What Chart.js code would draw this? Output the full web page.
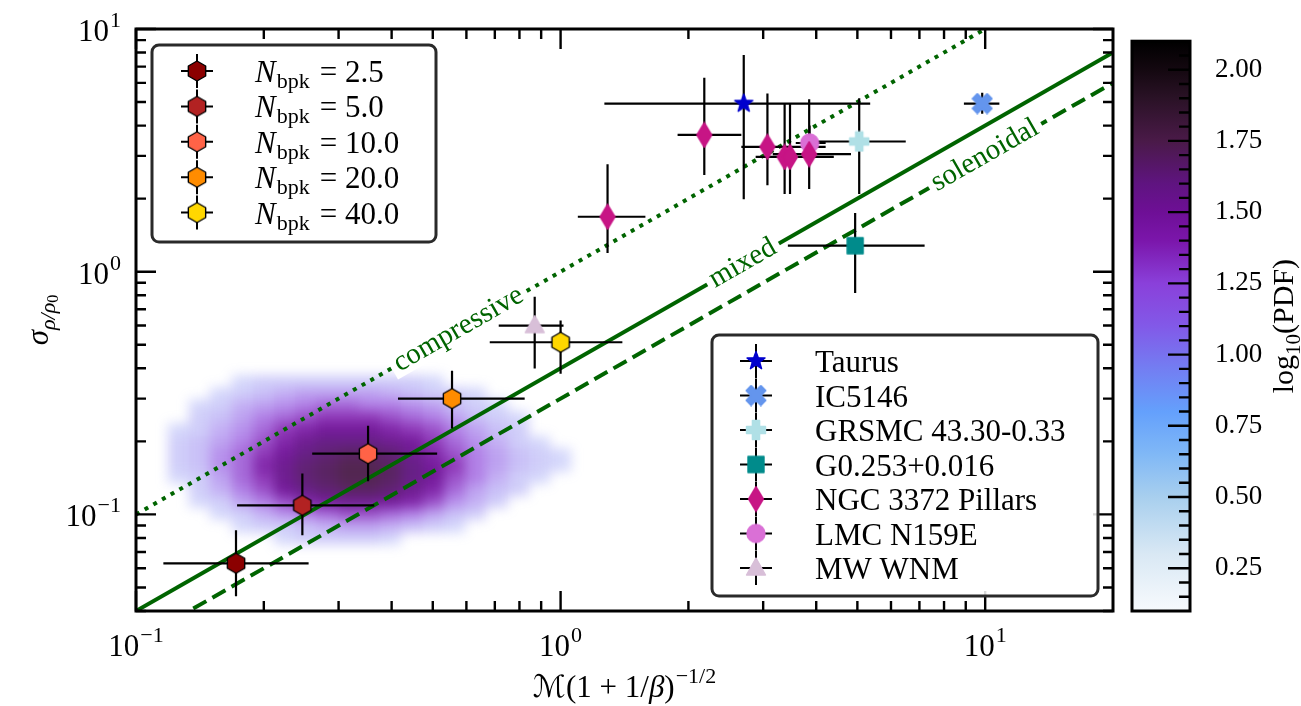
<!DOCTYPE html>
<html>
<head>
<meta charset="utf-8">
<script src="https://cdn.jsdelivr.net/npm/chart.js@4.4.0/dist/chart.umd.min.js"></script>
<style>
html, body { margin: 0; padding: 0; background: #fff; }
#wrap { position: relative; width: 1301px; height: 706px; }
canvas { position: absolute; left: 0; top: 0; }
</style>
</head>
<body>
<div id="wrap">
<canvas id="main" width="1301" height="706"></canvas>
<canvas id="cbar" width="1301" height="706"></canvas>
</div>
<script>
var FONT = '"Liberation Serif", "DejaVu Serif", "DejaVu Sans", serif';

// axes
var xRange = [0.1, 20];
var yRange = [0.04, 10];
var xMajorTicks = [0.1, 1, 10];
var xMinorTicks = [0.2, 0.3, 0.4, 0.5, 0.6, 0.7, 0.8, 0.9, 2, 3, 4, 5, 6, 7, 8, 9];
var xTickLabels = ['\u22121', '0', '1'];
var yMajorTicks = [0.1, 1, 10];
var yMinorTicks = [0.04, 0.05, 0.06, 0.07, 0.08, 0.09, 0.2, 0.3, 0.4, 0.5, 0.6, 0.7, 0.8, 0.9, 2, 3, 4, 5, 6, 7, 8, 9];
var yTickLabels = ['\u22121', '0', '1'];

// simulations, one point per N_bpk
var bpkNames = ['2.5', '5.0', '10.0', '20.0', '40.0'];
var bpkColors = ['#8b0000', '#b22222', '#ff6347', '#ff8c00', '#ffd700'];
var bpkX = [0.172, 0.2465, 0.352, 0.555, 1.0];
var bpkY = [0.0629, 0.109, 0.178, 0.300, 0.512];
var bpkXlo = [0.116, 0.173, 0.26, 0.414, 0.681];
var bpkXhi = [0.255, 0.364, 0.512, 0.823, 1.398];
var bpkYlo = [0.046, 0.082, 0.137, 0.226, 0.380];
var bpkYhi = [0.086, 0.1475, 0.232, 0.391, 0.629];

// observations
var obsNames = ['Taurus', 'IC5146', 'GRSMC 43.30-0.33', 'G0.253+0.016', 'NGC 3372 Pillars', 'LMC N159E', 'MW WNM'];
var obsColors = ['#0000cd', '#6495ed', '#b0e0e6', '#008b8b', '#c71585', '#da70d6', '#d8bfd8'];
var obsShapes = ['star', 'xfill', 'plusfill', 'square', 'diamond', 'circle', 'triangle'];
var obsX = [[2.70], [9.84], [5.05], [4.94], [1.29, 2.18, 3.07, 3.37, 3.47, 3.85], [3.86], [0.869]];
var obsY = [[4.93], [4.93], [3.44], [1.28], [1.684, 3.66, 3.27, 2.97, 2.97, 3.05], [3.39], [0.60]];
var obsXlo = [[1.268], [8.91], [3.89], [3.43], [1.098, 1.886, 2.665, 2.88, 3.0, 3.16], [3.58], [0.715]];
var obsXhi = [[5.36], [10.8], [6.50], [7.20], [1.584, 2.665, 4.21, 4.26, 4.4, 4.83], [4.21], [1.016]];
var obsYlo = [[1.99], [4.48], [2.09], [0.817], [1.194, 2.50, 2.27, 2.09, 2.09, 2.19], [2.9], [0.399]];
var obsYhi = [[7.82], [5.46], [5.18], [1.744], [2.77, 6.30, 5.42, 4.87, 4.87, 5.14], [4.0], [0.789]];

// sigma = b * M relations
var relNames = ['compressive', 'mixed', 'solenoidal'];
var relSlopes = [1, 0.4, 0.3];
var relLabelX = [0.576, 2.69, 10.0];

// colour bar
var cbRange = [0.1, 2.1];
var cbMajorTicks = [0.25, 0.5, 0.75, 1.0, 1.25, 1.5, 1.75, 2.0];
var cbMinorTicks = [0.15, 0.2, 0.3, 0.35, 0.4, 0.45, 0.55, 0.6, 0.65, 0.7, 0.8, 0.85, 0.9, 0.95, 1.05, 1.1, 1.15, 1.2,
  1.3, 1.35, 1.4, 1.45, 1.55, 1.6, 1.65, 1.7, 1.8, 1.85, 1.9, 1.95, 2.05];
var cbStopValues = [0.1, 0.3, 0.5, 0.65, 0.8, 0.95, 1.1, 1.25, 1.4, 1.5, 1.6, 1.75, 1.9, 2.0, 2.1];
var cbStopColors = ['#f7fafd', '#d9e8f4', '#a8cfee', '#80b8f6', '#64a0fc', '#737ef2', '#8259e8', '#8a40da',
  '#7b16ab', '#6e0f96', '#5f1480', '#4a1a48', '#2a1226', '#140810', '#000000'];

// simulation cloud, log10(PDF) per cell on a 0.05 dex grid
var cloudStep = 0.05;
var cloudLogX = [-0.9, -0.85, -0.8, -0.75, -0.7, -0.65, -0.6, -0.55, -0.5, -0.45, -0.4, -0.35, -0.3, -0.25, -0.2, -0.15, -0.1, -0.05, 0];
var cloudLogY = [-0.45, -0.5, -0.55, -0.6, -0.65, -0.7, -0.75, -0.8, -0.85, -0.9, -0.95, -1.0, -1.05, -1.1];
var cloudGrid = [
  [0, 0, 0, 0.95, 1.0, 1.0, 1.0, 1.0, 1.0, 1.0, 1.0, 1.0, 0.95, 0, 0, 0, 0, 0, 0],
  [0, 0, 0.95, 1.0, 1.05, 1.1, 1.15, 1.15, 1.15, 1.15, 1.1, 1.05, 1.0, 1.0, 0.95, 0, 0, 0, 0],
  [0, 0.95, 1.0, 1.1, 1.15, 1.2, 1.25, 1.3, 1.3, 1.25, 1.25, 1.2, 1.15, 1.05, 1.0, 0.95, 0, 0, 0],
  [0, 1.0, 1.05, 1.15, 1.25, 1.3, 1.35, 1.4, 1.4, 1.4, 1.35, 1.3, 1.25, 1.15, 1.05, 1.0, 0.95, 0, 0],
  [0.95, 1.0, 1.1, 1.2, 1.3, 1.4, 1.45, 1.5, 1.5, 1.5, 1.45, 1.4, 1.35, 1.25, 1.15, 1.05, 1.0, 0, 0],
  [1.0, 1.05, 1.15, 1.25, 1.35, 1.45, 1.55, 1.6, 1.6, 1.6, 1.55, 1.5, 1.4, 1.3, 1.2, 1.1, 1.0, 0.95, 0],
  [1.0, 1.05, 1.2, 1.3, 1.4, 1.5, 1.6, 1.65, 1.7, 1.7, 1.65, 1.55, 1.45, 1.35, 1.25, 1.15, 1.05, 1.0, 0.95],
  [1.0, 1.05, 1.2, 1.3, 1.45, 1.55, 1.65, 1.7, 1.75, 1.75, 1.7, 1.6, 1.5, 1.4, 1.25, 1.15, 1.05, 1.0, 0.95],
  [0.95, 1.0, 1.15, 1.3, 1.4, 1.55, 1.65, 1.7, 1.75, 1.75, 1.7, 1.6, 1.5, 1.35, 1.25, 1.1, 1.0, 0.95, 0],
  [0, 1.0, 1.1, 1.25, 1.35, 1.5, 1.6, 1.65, 1.7, 1.7, 1.65, 1.55, 1.45, 1.3, 1.15, 1.05, 1.0, 0, 0],
  [0, 0.95, 1.0, 1.15, 1.25, 1.35, 1.45, 1.5, 1.55, 1.55, 1.5, 1.45, 1.35, 1.2, 1.1, 1.0, 0, 0, 0],
  [0, 0, 0.95, 1.0, 1.1, 1.2, 1.25, 1.3, 1.35, 1.35, 1.3, 1.25, 1.15, 1.05, 1.0, 0, 0, 0, 0],
  [0, 0, 0, 0.95, 1.0, 1.0, 1.05, 1.1, 1.15, 1.15, 1.1, 1.05, 1.0, 0.95, 0, 0, 0, 0, 0],
  [0, 0, 0, 0, 0, 0.95, 1.0, 1.0, 1.0, 1.0, 0.95, 0, 0, 0, 0, 0, 0, 0, 0]
];

function hexRgb(h) {
  return [parseInt(h.substr(1, 2), 16), parseInt(h.substr(3, 2), 16), parseInt(h.substr(5, 2), 16)];
}
function cmap(v) {
  if (v <= cbStopValues[0]) return cbStopColors[0];
  for (var i = 1; i < cbStopValues.length; i++) {
    if (v <= cbStopValues[i]) {
      var t = (v - cbStopValues[i - 1]) / (cbStopValues[i] - cbStopValues[i - 1]);
      var a = hexRgb(cbStopColors[i - 1]), b = hexRgb(cbStopColors[i]);
      return 'rgb(' + a.map(function (c, k) { return Math.round(c + (b[k] - c) * t); }).join(',') + ')';
    }
  }
  return cbStopColors[cbStopColors.length - 1];
}

// marker images (matplotlib shapes Chart.js lacks)
function marker(shape, fill, edge) {
  var w = 22, h = 22;
  if (shape === 'diamond') { w = 18; h = 27; }
  var c = document.createElement('canvas');
  c.width = w; c.height = h;
  var g = c.getContext('2d');
  var cx = w / 2, cy = h / 2, k, a, pts = [];
  if (shape === 'hexagon') {
    for (k = 0; k < 6; k++) { a = (-90 + 60 * k) * Math.PI / 180; pts.push([cx + 10 * Math.cos(a), cy + 10 * Math.sin(a)]); }
  } else if (shape === 'star') {
    for (k = 0; k < 10; k++) { a = (-90 + 36 * k) * Math.PI / 180; var r = k % 2 ? 3.9 : 9.5; pts.push([cx + r * Math.cos(a), cy + r * Math.sin(a)]); }
  } else if (shape === 'plusfill' || shape === 'xfill') {
    var L = shape === 'xfill' ? 10.5 : 9.5, t = 3.6;
    var base = [[t, L], [-t, L], [-t, t], [-L, t], [-L, -t], [-t, -t], [-t, -L], [t, -L], [t, -t], [L, -t], [L, t], [t, t]];
    var rot = shape === 'xfill' ? Math.PI / 4 : 0;
    base.forEach(function (p) {
      pts.push([cx + p[0] * Math.cos(rot) - p[1] * Math.sin(rot), cy + p[0] * Math.sin(rot) + p[1] * Math.cos(rot)]);
    });
  } else if (shape === 'square') {
    pts = [[cx - 8, cy - 8], [cx + 8, cy - 8], [cx + 8, cy + 8], [cx - 8, cy + 8]];
  } else if (shape === 'diamond') {
    pts = [[cx, cy - 12.5], [cx + 7.5, cy], [cx, cy + 12.5], [cx - 7.5, cy]];
  } else if (shape === 'triangle') {
    pts = [[cx, cy - 10], [cx + 9.5, cy + 7], [cx - 9.5, cy + 7]];
  }
  g.beginPath();
  if (shape === 'circle') {
    g.arc(cx, cy, 9, 0, Math.PI * 2);
  } else {
    pts.forEach(function (p, i) { if (i) g.lineTo(p[0], p[1]); else g.moveTo(p[0], p[1]); });
    g.closePath();
  }
  g.fillStyle = fill;
  g.fill();
  g.lineJoin = 'round';
  g.lineWidth = 1.4;
  g.strokeStyle = edge;
  g.stroke();
  return c;
}

var bpkMarkers = bpkColors.map(function (c) { return marker('hexagon', c, '#000'); });
var obsMarkers = obsShapes.map(function (s, i) { return marker(s, obsColors[i], obsColors[i]); });

// error bar segments, broken by null gaps
var errData = [];
function addErr(x, y, xlo, xhi, ylo, yhi) {
  errData.push({x: xlo, y: y}, {x: xhi, y: y}, {x: x, y: null}, {x: x, y: ylo}, {x: x, y: yhi}, {x: x, y: null});
}
bpkX.forEach(function (x, i) { addErr(x, bpkY[i], bpkXlo[i], bpkXhi[i], bpkYlo[i], bpkYhi[i]); });
obsX.forEach(function (xs, j) {
  xs.forEach(function (x, i) { addErr(x, obsY[j][i], obsXlo[j][i], obsXhi[j][i], obsYlo[j][i], obsYhi[j][i]); });
});

var datasets = [];
datasets.push({
  data: bpkX.map(function (x, i) { return {x: x, y: bpkY[i]}; }),
  pointStyle: bpkMarkers, pointRadius: 10, order: 0
});
obsNames.forEach(function (n, j) {
  datasets.push({
    label: n,
    data: obsX[j].map(function (x, i) { return {x: x, y: obsY[j][i]}; }),
    pointStyle: obsMarkers[j], pointRadius: 10, order: 0
  });
});
datasets.push({data: errData, showLine: true, borderColor: '#000', borderWidth: 2.2, pointRadius: 0, spanGaps: false, order: 1});
var relDash = [[4, 6], [], [15, 7]];
relNames.forEach(function (n, i) {
  datasets.push({
    label: n,
    data: xRange.map(function (x) { return {x: x, y: relSlopes[i] * x}; }),
    showLine: true, borderColor: '#006400', borderWidth: 4, borderDash: relDash[i],
    pointRadius: 0, order: 4 - i, relLabels: i === 2
  });
});

function drawRich(ctx, parts, x, y, align) {
  var total = 0;
  parts.forEach(function (p) {
    ctx.font = (p.style || '') + ' ' + p.size + 'px ' + FONT;
    p.w = ctx.measureText(p.t).width;
    total += p.w + (p.gap || 0);
  });
  var x0 = align === 'center' ? x - total / 2 : (align === 'right' ? x - total : x);
  ctx.textAlign = 'left';
  ctx.textBaseline = 'alphabetic';
  parts.forEach(function (p) {
    ctx.font = (p.style || '') + ' ' + p.size + 'px ' + FONT;
    ctx.fillText(p.t, x0, y + (p.dy || 0));
    x0 += p.w + (p.gap || 0);
  });
}
function pow10(exp) {
  return [{t: '10', size: 31, gap: 1}, {t: exp, size: 22, dy: -14}];
}

function drawLegendRow(ctx, img, x, y) {
  ctx.strokeStyle = '#000';
  ctx.lineWidth = 2;
  ctx.beginPath();
  ctx.moveTo(x - 16, y); ctx.lineTo(x + 16, y);
  ctx.moveTo(x, y - 17); ctx.lineTo(x, y + 17);
  ctx.stroke();
  ctx.drawImage(img, x - img.width / 2, y - img.height / 2);
}
function legendBox(ctx, x, y, w, h) {
  ctx.beginPath();
  ctx.roundRect(x, y, w, h, 7);
  ctx.fillStyle = 'rgba(255,255,255,0.85)';
  ctx.fill();
  ctx.lineWidth = 3;
  ctx.strokeStyle = '#2a2a2a';
  ctx.stroke();
}

var mainDecor = {
  id: 'mainDecor',
  beforeDatasetsDraw: function (chart) {
    var ctx = chart.ctx, xs = chart.scales.x, ys = chart.scales.y, a = chart.chartArea;
    var off = document.createElement('canvas');
    off.width = chart.width; off.height = chart.height;
    var g = off.getContext('2d');
    cloudLogY.forEach(function (ly, r) {
      cloudLogX.forEach(function (lx, c) {
        var v = cloudGrid[r][c];
        if (!v) return;
        var x0 = xs.getPixelForValue(Math.pow(10, lx - cloudStep / 2));
        var x1 = xs.getPixelForValue(Math.pow(10, lx + cloudStep / 2));
        var y0 = ys.getPixelForValue(Math.pow(10, ly + cloudStep / 2));
        var y1 = ys.getPixelForValue(Math.pow(10, ly - cloudStep / 2));
        g.globalAlpha = Math.min(0.95, Math.max(0.3, (v - 0.72) / 0.8));
        g.fillStyle = cmap(v);
        g.fillRect(Math.round(x0), Math.round(y0), Math.round(x1) - Math.round(x0), Math.round(y1) - Math.round(y0));
      });
    });
    ctx.save();
    ctx.beginPath();
    ctx.rect(a.left, a.top, a.right - a.left, a.bottom - a.top);
    ctx.clip();
    ctx.filter = 'blur(6px)';
    ctx.drawImage(off, 0, 0);
    ctx.restore();
  },
  afterDatasetDraw: function (chart, args) {
    if (!chart.data.datasets[args.index].relLabels) return;
    var ctx = chart.ctx, xs = chart.scales.x, ys = chart.scales.y;
    relNames.forEach(function (name, i) {
      var x = relLabelX[i], b = relSlopes[i];
      var px = xs.getPixelForValue(x), py = ys.getPixelForValue(b * x);
      var ang = Math.atan2(ys.getPixelForValue(2 * b * x) - py, xs.getPixelForValue(2 * x) - px);
      ctx.save();
      ctx.translate(px, py);
      ctx.rotate(ang);
      ctx.font = '29px ' + FONT;
      var w = ctx.measureText(name).width;
      ctx.fillStyle = '#fff';
      ctx.fillRect(-w / 2 - 5, -15, w + 10, 28);
      ctx.fillStyle = '#006400';
      ctx.textAlign = 'center';
      ctx.textBaseline = 'alphabetic';
      ctx.fillText(name, 0, 7);
      ctx.restore();
    });
  },
  afterDraw: function (chart) {
    var ctx = chart.ctx, xs = chart.scales.x, ys = chart.scales.y, a = chart.chartArea;
    ctx.save();
    ctx.fillStyle = '#000';
    ctx.strokeStyle = '#000';
    // inward ticks on all four sides
    ctx.lineWidth = 2.4;
    ctx.beginPath();
    [[xMajorTicks, 20], [xMinorTicks, 10]].forEach(function (s) {
      s[0].forEach(function (v) {
        var p = xs.getPixelForValue(v);
        ctx.moveTo(p, a.bottom); ctx.lineTo(p, a.bottom - s[1]);
        ctx.moveTo(p, a.top); ctx.lineTo(p, a.top + s[1]);
      });
    });
    [[yMajorTicks, 20], [yMinorTicks, 10]].forEach(function (s) {
      s[0].forEach(function (v) {
        var p = ys.getPixelForValue(v);
        ctx.moveTo(a.left, p); ctx.lineTo(a.left + s[1], p);
        ctx.moveTo(a.right, p); ctx.lineTo(a.right - s[1], p);
      });
    });
    ctx.stroke();
    ctx.lineWidth = 3;
    ctx.strokeRect(a.left, a.top, a.right - a.left, a.bottom - a.top);
    // tick labels
    xMajorTicks.forEach(function (v, i) {
      drawRich(ctx, pow10(xTickLabels[i]), xs.getPixelForValue(v), a.bottom + 45, 'center');
    });
    yMajorTicks.forEach(function (v, i) {
      drawRich(ctx, pow10(yTickLabels[i]), a.left - 15, ys.getPixelForValue(v) + 12, 'right');
    });
    // axis titles
    drawRich(ctx, [{t: '\u2133', size: 31}, {t: '(1 + 1/', size: 31}, {t: '\u03b2', size: 31, style: 'italic'},
      {t: ')', size: 31, gap: 1}, {t: '\u22121/2', size: 22, dy: -14}], (a.left + a.right) / 2, 697, 'center');
    ctx.save();
    ctx.translate(48, (a.top + a.bottom) / 2);
    ctx.rotate(-Math.PI / 2);
    drawRich(ctx, [{t: '\u03c3', size: 31, style: 'italic'}, {t: '\u03c1/\u03c1', size: 22, style: 'italic', dy: 7},
      {t: '0', size: 16, dy: 10}], 0, 0, 'center');
    ctx.restore();
    // legend: N_bpk
    var lx = a.left + 16, ly = a.top + 16;
    legendBox(ctx, lx, ly, 284, 197);
    bpkNames.forEach(function (n, i) {
      var ry = ly + 26 + i * 35.4;
      drawLegendRow(ctx, bpkMarkers[i], lx + 45, ry);
      ctx.fillStyle = '#000';
      drawRich(ctx, [{t: 'N', size: 31, style: 'italic', gap: 1}, {t: 'bpk', size: 22, dy: 6, gap: 10},
        {t: '= ' + n, size: 31}], lx + 103, ry + 11, 'left');
    });
    // legend: observations
    var rx = a.right - 15 - 386, ry0 = a.bottom - 15 - 261;
    legendBox(ctx, rx, ry0, 386, 261);
    obsNames.forEach(function (n, i) {
      var ry = ry0 + 26 + i * 34.5;
      drawLegendRow(ctx, obsMarkers[i], rx + 44, ry);
      ctx.fillStyle = '#000';
      drawRich(ctx, [{t: n, size: 31}], rx + 103, ry + 11, 'left');
    });
    ctx.restore();
  }
};

new Chart(document.getElementById('main'), {
  type: 'scatter',
  data: {datasets: datasets},
  options: {
    responsive: false,
    animation: false,
    events: [],
    layout: {padding: {left: 136, top: 29, right: 188, bottom: 95}},
    plugins: {legend: {display: false}, tooltip: {enabled: false}},
    scales: {
      x: {type: 'logarithmic', min: xRange[0], max: xRange[1], display: false},
      y: {type: 'logarithmic', min: yRange[0], max: yRange[1], display: false}
    }
  },
  plugins: [mainDecor]
});

var cbarDecor = {
  id: 'cbarDecor',
  afterDraw: function (chart) {
    var ctx = chart.ctx, ys = chart.scales.y, a = chart.chartArea;
    ctx.save();
    ctx.strokeStyle = '#000';
    ctx.lineWidth = 2.4;
    ctx.beginPath();
    [[cbMajorTicks, 22], [cbMinorTicks, 11]].forEach(function (s) {
      s[0].forEach(function (v) {
        var p = ys.getPixelForValue(v);
        ctx.moveTo(a.right, p); ctx.lineTo(a.right - s[1], p);
      });
    });
    ctx.stroke();
    ctx.lineWidth = 3;
    ctx.strokeRect(a.left, a.top, a.right - a.left, a.bottom - a.top);
    ctx.fillStyle = '#000';
    ctx.translate(1293, (a.top + a.bottom) / 2);
    ctx.rotate(-Math.PI / 2);
    drawRich(ctx, [{t: 'log', size: 30}, {t: '10', size: 21, dy: 7}, {t: '(PDF)', size: 30}], 0, 0, 'center');
    ctx.restore();
  }
};

new Chart(document.getElementById('cbar'), {
  type: 'bar',
  data: {
    labels: ['PDF'],
    datasets: [{
      data: [[cbRange[0], cbRange[1]]],
      borderWidth: 0,
      barPercentage: 1,
      categoryPercentage: 1,
      backgroundColor: function (c) {
        var ch = c.chart, ys = ch.scales.y;
        if (!ch.chartArea || !ys) return cbStopColors[0];
        var g = ch.ctx.createLinearGradient(0, ys.getPixelForValue(cbRange[0]), 0, ys.getPixelForValue(cbRange[1]));
        cbStopValues.forEach(function (v, i) {
          g.addColorStop((v - cbRange[0]) / (cbRange[1] - cbRange[0]), cbStopColors[i]);
        });
        return g;
      }
    }]
  },
  options: {
    responsive: false,
    animation: false,
    events: [],
    layout: {padding: {left: 1132, top: 29, right: 11, bottom: 95}},
    plugins: {legend: {display: false}, tooltip: {enabled: false}},
    scales: {
      x: {display: false},
      y: {
        position: 'right',
        min: cbRange[0],
        max: cbRange[1],
        afterBuildTicks: function (s) { s.ticks = cbMajorTicks.map(function (v) { return {value: v}; }); },
        afterFit: function (s) { s.width = 100; },
        grid: {display: false, drawTicks: false},
        border: {display: false},
        ticks: {
          padding: 25,
          color: '#000',
          font: {family: FONT, size: 27},
          callback: function (v) { return Number(v).toFixed(2); }
        }
      }
    }
  },
  plugins: [cbarDecor]
});
</script>
</body>
</html>
